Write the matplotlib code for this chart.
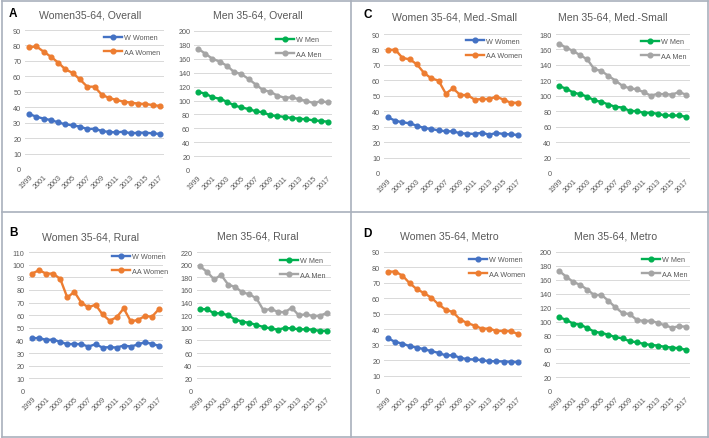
import matplotlib
matplotlib.use("Agg")
import matplotlib.pyplot as plt
from matplotlib.lines import Line2D

plt.rcParams["font.family"] = ["Liberation Sans", "DejaVu Sans"]

years = list(range(1999, 2018))
tick_years = [str(y) for y in years[::2]]

# Panel A - overall
w_women_overall = [35.6, 33.9, 32.6, 31.7, 30.2, 28.9, 28.3, 27.4, 25.9, 26.1,
                   24.6, 24.0, 23.7, 24.2, 23.1, 23.5, 23.5, 23.1, 22.7]
aa_women_overall = [78.8, 79.4, 76.0, 72.7, 68.9, 64.5, 62.2, 58.0, 53.3, 53.3,
                    48.1, 46.0, 44.7, 43.6, 43.0, 42.3, 42.1, 41.4, 40.8]
w_men_overall = [112.2, 110.0, 104.6, 102.6, 98.3, 93.0, 90.0, 87.8, 84.4, 83.0,
                 78.7, 77.7, 76.3, 74.8, 73.9, 72.9, 71.5, 70.5, 69.5]
aa_men_overall = [174.6, 167.4, 160.0, 156.0, 150.0, 141.0, 138.0, 131.0, 123.0, 115.0,
                  112.6, 107.0, 104.0, 104.6, 101.7, 99.3, 96.4, 98.8, 97.4]

# Panel B - rural
w_women_rural = [41.7, 42.0, 40.4, 40.7, 38.9, 37.0, 37.3, 37.0, 35.2, 37.0,
                 34.4, 34.7, 34.4, 36.0, 35.2, 36.8, 38.6, 37.3, 35.7]
aa_women_rural = [92.9, 95.6, 92.9, 92.9, 88.7, 74.0, 78.5, 69.8, 66.2, 68.3,
                  60.6, 55.7, 58.3, 65.4, 55.1, 56.2, 59.3, 58.8, 64.8]
w_men_rural = [129.8, 129.3, 123.0, 123.0, 119.8, 113.0, 109.8, 107.7, 104.5, 101.3,
               99.2, 97.1, 99.7, 99.2, 97.6, 97.6, 97.1, 95.0, 95.5]
aa_men_rural = [197.4, 188.4, 176.8, 183.6, 168.3, 164.6, 156.2, 153.0, 146.6, 127.7,
                129.8, 125.6, 124.5, 131.9, 119.8, 121.4, 118.7, 119.3, 123.5]

# Panel C - medium/small
w_women_medsmall = [36.0, 33.9, 32.8, 32.2, 30.6, 29.1, 28.5, 27.6, 27.0, 27.0,
                    25.7, 25.5, 25.3, 26.1, 24.8, 25.9, 25.3, 25.0, 24.6]
aa_women_medsmall = [79.6, 79.9, 74.5, 73.6, 70.4, 64.7, 61.3, 59.8, 51.4, 54.8,
                     50.5, 50.5, 47.5, 47.9, 47.9, 49.4, 47.5, 45.5, 45.5]
w_men_medsmall = [112.4, 109.4, 104.2, 102.0, 99.0, 93.9, 92.2, 88.7, 85.7, 84.8,
                  80.5, 80.1, 78.0, 78.0, 76.7, 74.5, 74.5, 74.5, 72.8]
aa_men_medsmall = [167.5, 162.4, 158.0, 152.5, 147.3, 134.4, 132.2, 125.8, 119.7, 112.8,
                   109.8, 108.5, 104.7, 100.3, 102.5, 102.0, 101.6, 104.7, 101.6]

# Panel D - metro
w_women_metro = [34.1, 31.8, 30.7, 29.0, 28.1, 27.1, 25.8, 24.7, 23.0, 23.2,
                 21.5, 20.6, 20.4, 20.0, 19.3, 19.3, 19.1, 18.9, 18.7]
aa_women_metro = [77.3, 77.3, 74.7, 69.8, 65.9, 63.4, 60.4, 56.1, 52.6, 51.1,
                  46.2, 44.0, 42.3, 40.4, 40.4, 38.9, 38.9, 38.7, 36.9]
w_men_metro = [106.0, 102.6, 96.9, 95.5, 90.7, 85.4, 83.5, 81.1, 77.3, 75.9,
               71.6, 70.2, 67.8, 66.3, 65.4, 63.5, 62.5, 61.6, 59.2]
aa_men_metro = [172.8, 164.7, 157.0, 152.7, 146.0, 137.9, 138.4, 129.8, 120.3, 112.2,
                110.7, 102.6, 100.7, 101.2, 97.9, 94.5, 91.2, 93.1, 92.6]

BLUE, ORANGE, GREEN, GRAY = "#4472C4", "#ED7D31", "#00B050", "#A5A5A5"
TXT = "#595959"
W, H = 709, 439

fig = plt.figure(figsize=(W / 100, H / 100), dpi=100)
fig.patch.set_facecolor("white")


def make_axes(x0, x1, ytop, ybot):
    return fig.add_axes([x0 / W, 1 - ybot / H, (x1 - x0) / W, (ybot - ytop) / H])


def draw(box, title, tpos, w_vals, aa_vals, labels, colors, ymax, step, leg):
    ax = make_axes(*box)
    x = list(range(len(years)))
    ax.plot(x, w_vals, color=colors[0], lw=1.7, marker="o", ms=3.4, label=labels[0])
    ax.plot(x, aa_vals, color=colors[1], lw=1.7, marker="o", ms=3.4, label=labels[1])
    ax.set_xlim(-0.5, len(years) - 0.5)
    ax.set_ylim(0, ymax)
    ax.set_yticks(range(0, ymax + 1, step))
    ax.set_xticks(x[::2])
    ax.set_xticklabels(tick_years, rotation=45, ha="right", rotation_mode="anchor")
    ax.tick_params(axis="both", length=0, labelsize=5.2, labelcolor=TXT, pad=3)
    ax.grid(axis="y", color="#D9D9D9", lw=0.7)
    ax.set_axisbelow(True)
    for s in ax.spines.values():
        s.set_visible(False)
    fig.text(tpos[0] / W, 1 - tpos[1] / H, title, ha="center", va="center",
             fontsize=7.6, color=TXT)
    lx, ly = leg
    ax.legend(loc="center left", bbox_to_anchor=(lx / W, 1 - ly / H),
              bbox_transform=fig.transFigure, frameon=False, fontsize=5.2,
              handlelength=2.5, handletextpad=0.3, labelspacing=1.0,
              borderpad=0, borderaxespad=0, labelcolor=TXT)
    return ax


wl = ("W Women", "AA Women")
ml = ("W Men", "AA Men")
wc = (BLUE, ORANGE)
mc = (GREEN, GRAY)

draw((25.4, 163.6, 31, 170), "Women35-64, Overall", (90, 15),
     w_women_overall, aa_women_overall, wl, wc, 90, 10, (104, 46))
draw((194.4, 331.6, 32, 171), "Men 35-64, Overall", (258, 15),
     w_men_overall, aa_men_overall, ml, mc, 200, 20, (276, 48))
draw((384.4, 521.6, 35, 174), "Women 35-64, Med.-Small", (454, 17),
     w_women_medsmall, aa_women_medsmall, wl, wc, 90, 10, (466, 49.5))
draw((555.5, 689.5, 35, 174), "Men 35-64, Med.-Small", (613, 17),
     w_men_medsmall, aa_men_medsmall, ml, mc, 180, 20, (641, 50))
draw((28.5, 162.5, 253, 392), "Women 35-64, Rural", (90, 238),
     w_women_rural, aa_women_rural, wl, wc, 110, 10, (112, 265))
draw((196.5, 330.5, 253, 392), "Men 35-64, Rural", (258, 237),
     w_men_rural, aa_men_rural, ml, mc, 220, 20, (280, 269))
draw((384.4, 521.6, 253, 392), "Women 35-64, Metro", (449, 237),
     w_women_metro, aa_women_metro, wl, wc, 90, 10, (469, 268))
draw((555.5, 689.5, 253, 392), "Men 35-64, Metro", (616, 237),
     w_men_metro, aa_men_metro, ml, mc, 200, 20, (642, 268))

for letter, (px, py) in zip("ABCD", [(13, 14), (13, 233), (368, 15), (367, 234)]):
    fig.text(px / W, 1 - py / H, letter, ha="center", va="center",
             fontsize=8.5, fontweight="bold", color="black")

# table-style panel borders
border = "#A9B0BC"
segs = [((1.5, 1.5), (1.5, 437.5)), ((707.5, 707.5), (1.5, 437.5)),
        ((1.5, 707.5), (1.5, 1.5)), ((1.5, 707.5), (437.5, 437.5)),
        ((351, 351), (1.5, 437.5)), ((1.5, 707.5), (212.5, 212.5))]
for xs, ys in segs:
    fig.add_artist(Line2D([v / W for v in xs], [1 - v / H for v in ys],
                          color=border, lw=1.2))

fig.savefig("out.png", dpi=100)
